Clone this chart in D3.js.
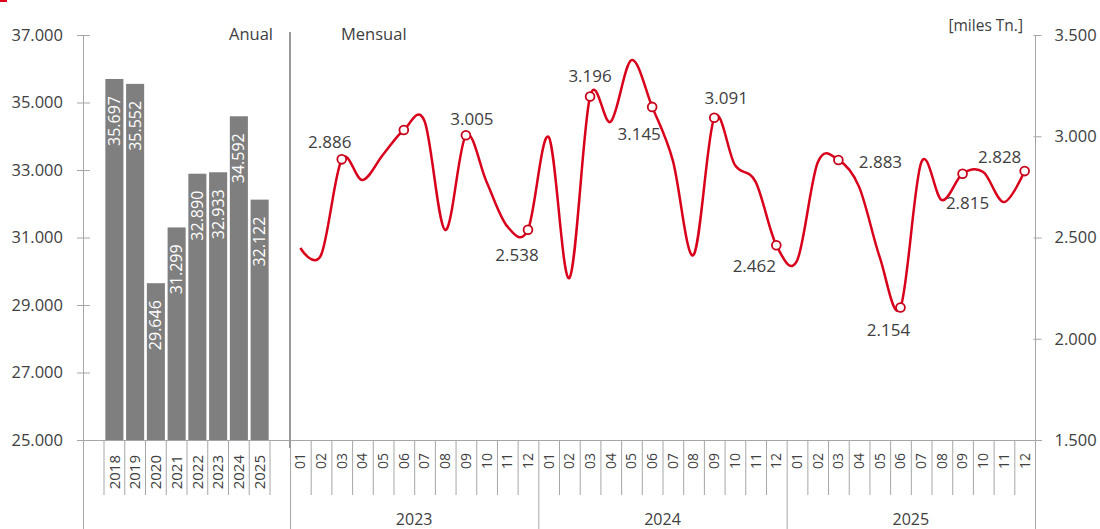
<!DOCTYPE html>
<html>
<head>
<meta charset="utf-8">
<script src="https://cdn.jsdelivr.net/npm/d3@7"></script>
<style>
body { margin: 0; background: #fff; }
text { font-family: "Open Sans", sans-serif; fill: #404040; }
</style>
</head>
<body>
<div id="main"></div>
<script>
// annual totals (miles Tn.)
const years = ["2018", "2019", "2020", "2021", "2022", "2023", "2024", "2025"];
const annual = [35697, 35552, 29646, 31299, 32890, 32933, 34592, 32122];

// monthly values
const monthYears = ["2023", "2024", "2025"];
const monthNames = ["01", "02", "03", "04", "05", "06", "07", "08", "09", "10", "11", "12"];
const monthly2023 = [2448, 2413, 2886, 2784, 2910, 3031, 3075, 2537, 3005, 2774, 2555, 2538];
const monthly2024 = [2996, 2300, 3196, 3072, 3376, 3145, 2880, 2414, 3091, 2858, 2775, 2462];
const monthly2025 = [2385, 2870, 2883, 2750, 2402, 2154, 2870, 2685, 2815, 2823, 2675, 2828];

const markedMonths = ["03", "06", "09", "12"];
const labelledKeys = ["2023-03", "2023-09", "2023-12", "2024-03", "2024-06", "2024-09",
  "2024-12", "2025-03", "2025-06", "2025-09", "2025-12"];

const leftTicks = [25000, 27000, 29000, 31000, 33000, 35000, 37000];
const rightTicks = [1500, 2000, 2500, 3000, 3500];

// label nudges relative to marker (layout only)
const labelNudge = {
  "2023-03": [-12, -11], "2023-09": [6, -10], "2023-12": [-11, 31],
  "2024-03": [0, -15], "2024-06": [-13, 33], "2024-09": [12, -14],
  "2024-12": [-22, 27], "2025-03": [42, 8], "2025-06": [-12, 28],
  "2025-09": [5, 35], "2025-12": [-25, -8]
};

const width = 1100, height = 529;
const plotTop = 35, base = 440;
const red = "#d9001b", grey = "#a6a6a6";

const svg = d3.select("#main").append("svg")
  .attr("width", width)
  .attr("height", height)
  .style("display", "block");

const fmt = d3.formatLocale({decimal: ",", thousands: ".", grouping: [3], currency: ["", ""]}).format(",.0f");

const yL = d3.scaleLinear().domain([25000, 37000]).range([base, plotTop]);
const yR = d3.scaleLinear().domain([1500, 3500]).range([base, plotTop]);

const xYear = d3.scaleBand().domain(years).range([104, 270]).paddingInner(0.13).paddingOuter(0.065);

const monthly = [monthly2023, monthly2024, monthly2025];
const months = [];
monthYears.forEach((y, yi) => {
  monthNames.forEach((m, mi) => {
    months.push({key: `${y}-${m}`, year: y, month: m, value: monthly[yi][mi]});
  });
});
const xMonth = d3.scaleBand().domain(months.map(d => d.key)).range([290, 1035]);

// top-left red mark
svg.append("rect").attr("x", 0).attr("y", 0).attr("width", 7).attr("height", 2).attr("fill", "#e0001b");

// left axis
const gL = svg.append("g")
  .attr("transform", "translate(83,0)")
  .call(d3.axisLeft(yL).tickValues(leftTicks).tickFormat(fmt).tickSize(6).tickPadding(14));
gL.attr("font-family", null).attr("font-size", null);
gL.select(".domain").remove();
gL.selectAll(".tick line").attr("x1", 7).attr("stroke", grey);
gL.selectAll(".tick text").style("font-size", "16.5px");

svg.append("line")
  .attr("x1", 83.5).attr("x2", 83.5).attr("y1", plotTop).attr("y2", height)
  .attr("stroke", grey);

// right axis
const gR = svg.append("g")
  .attr("transform", "translate(1035.5,0)")
  .call(d3.axisRight(yR).tickValues(rightTicks).tickFormat(fmt).tickSize(6).tickPadding(13));
gR.attr("font-family", null).attr("font-size", null);
gR.select(".domain").remove();
gR.selectAll(".tick line").attr("x1", -2).attr("stroke", grey);
gR.selectAll(".tick text").style("font-size", "16.5px");

svg.append("line")
  .attr("x1", 1035.5).attr("x2", 1035.5).attr("y1", plotTop).attr("y2", height)
  .attr("stroke", grey);

// bars
svg.append("g")
  .selectAll("rect")
  .data(years)
  .join("rect")
  .attr("x", d => xYear(d))
  .attr("width", xYear.bandwidth())
  .attr("y", (d, i) => yL(annual[i]))
  .attr("height", (d, i) => base - yL(annual[i]))
  .attr("fill", "#7f7f7f");

svg.append("g")
  .selectAll("text")
  .data(years)
  .join("text")
  .attr("transform", (d, i) => `translate(${xYear(d) + xYear.bandwidth() / 2}, ${yL(annual[i]) + 17}) rotate(-90)`)
  .attr("text-anchor", "end")
  .attr("dy", "0.35em")
  .style("font-size", "16px")
  .style("fill", "#fff")
  .text((d, i) => fmt(annual[i]));

// baseline
svg.append("line")
  .attr("x1", 77).attr("x2", 1042).attr("y1", base + 0.5).attr("y2", base + 0.5)
  .attr("stroke", grey);

// year category cells
const yStep = xYear.step();
const yearEdges = d3.range(years.length + 1).map(i => 104 + i * yStep);
svg.append("g")
  .selectAll("line")
  .data(yearEdges)
  .join("line")
  .attr("x1", d => d).attr("x2", d => d)
  .attr("y1", base).attr("y2", 495)
  .attr("stroke", grey);

svg.append("g")
  .selectAll("text")
  .data(years)
  .join("text")
  .attr("transform", d => `translate(${xYear(d) + xYear.bandwidth() / 2}, 455) rotate(-90)`)
  .attr("text-anchor", "end")
  .attr("dy", "0.35em")
  .style("font-size", "15px")
  .text(d => d);

// month cells
svg.append("g")
  .selectAll("line")
  .data(months.filter(d => d.month !== "01"))
  .join("line")
  .attr("x1", d => xMonth(d.key) + 0.5).attr("x2", d => xMonth(d.key) + 0.5)
  .attr("y1", base).attr("y2", 495)
  .attr("stroke", grey);

svg.append("g")
  .selectAll("line")
  .data(months.filter(d => d.month === "01").map(d => xMonth(d.key)).concat([xMonth.range()[1]]))
  .join("line")
  .attr("x1", d => d + 0.5).attr("x2", d => d + 0.5)
  .attr("y1", base).attr("y2", height)
  .attr("stroke", grey);

svg.append("g")
  .selectAll("text")
  .data(months)
  .join("text")
  .attr("transform", d => `translate(${xMonth(d.key) + xMonth.bandwidth() / 2}, 453) rotate(-90)`)
  .attr("text-anchor", "end")
  .attr("dy", "0.35em")
  .style("font-size", "14px")
  .text(d => d.month);

svg.append("g")
  .selectAll("text")
  .data(monthYears)
  .join("text")
  .attr("x", d => (xMonth(`${d}-01`) + xMonth(`${d}-12`) + xMonth.bandwidth()) / 2)
  .attr("y", 525)
  .attr("text-anchor", "middle")
  .style("font-size", "16px")
  .text(d => d);

// divider between annual and monthly
svg.append("line")
  .attr("x1", 290).attr("x2", 290).attr("y1", 32).attr("y2", 448)
  .attr("stroke", "#9a9a9a").attr("stroke-width", 2);

// titles
svg.append("text").attr("x", 273).attr("y", 40).attr("text-anchor", "end").style("font-size", "16.5px").text("Anual");
svg.append("text").attr("x", 341).attr("y", 40).style("font-size", "16.5px").text("Mensual");
svg.append("text").attr("x", 1023).attr("y", 31).attr("text-anchor", "end").style("font-size", "15.5px").text("[miles Tn.]");

// monthly line
const cx = d => xMonth(d.key) + xMonth.bandwidth() / 2;
const line = d3.line()
  .x(cx)
  .y(d => yR(d.value))
  .curve(d3.curveCatmullRom.alpha(0));

svg.append("path")
  .datum(months)
  .attr("d", line)
  .attr("fill", "none")
  .attr("stroke", red)
  .attr("stroke-width", 2.5);

svg.append("g")
  .selectAll("circle")
  .data(months.filter(d => markedMonths.includes(d.month)))
  .join("circle")
  .attr("cx", cx)
  .attr("cy", d => yR(d.value))
  .attr("r", 4.4)
  .attr("fill", "#fff")
  .attr("stroke", "#c8001a")
  .attr("stroke-width", 1.8);

svg.append("g")
  .selectAll("text")
  .data(months.filter(d => labelledKeys.includes(d.key)))
  .join("text")
  .attr("x", d => cx(d) + labelNudge[d.key][0])
  .attr("y", d => yR(d.value) + labelNudge[d.key][1])
  .attr("text-anchor", "middle")
  .style("font-size", "17px")
  .text(d => fmt(d.value));
</script>
</body>
</html>
